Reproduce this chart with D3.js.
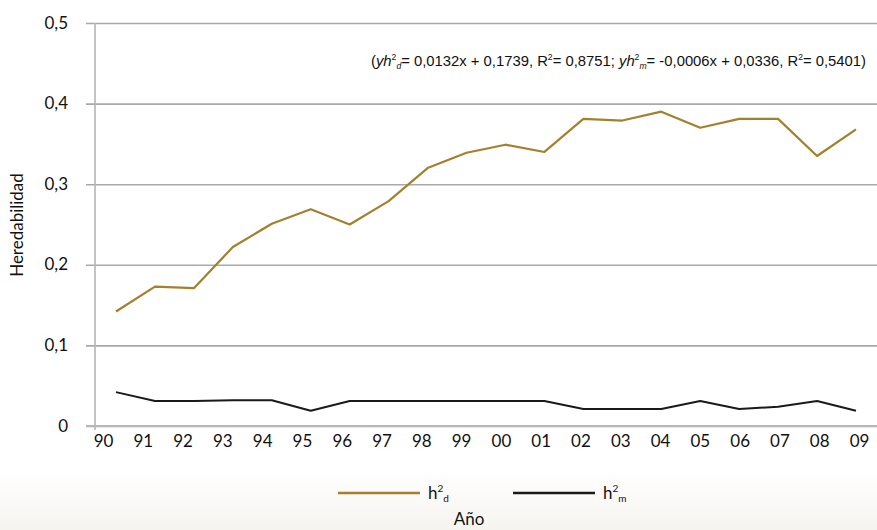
<!DOCTYPE html>
<html><head><meta charset="utf-8">
<script src="https://cdn.jsdelivr.net/npm/d3@7"></script>
<style>
html,body{margin:0;padding:0;background:#fff;}
svg{display:block;}
</style></head>
<body>
<svg id="c" width="877" height="530"></svg>
<script>
const years = ["90","91","92","93","94","95","96","97","98","99","00","01","02","03","04","05","06","07","08","09"];
const h2d = [0.142,0.173,0.171,0.222,0.251,0.269,0.250,0.279,0.320,0.339,0.349,0.340,0.381,0.379,0.390,0.370,0.381,0.381,0.335,0.368];
const h2m = [0.042,0.031,0.031,0.032,0.032,0.019,0.031,0.031,0.031,0.031,0.031,0.031,0.021,0.021,0.021,0.031,0.021,0.024,0.031,0.019];
const yTicks = [0,0.1,0.2,0.3,0.4,0.5];
const yTickLabels = ["0","0,1","0,2","0,3","0,4","0,5"];

const FONT = "Lato, 'Open Sans', sans-serif";
const svg = d3.select("#c");
const defs = svg.append("defs");
const g = defs.append("linearGradient").attr("id","bg").attr("x1",0).attr("y1",0).attr("x2",0).attr("y2",1);
g.append("stop").attr("offset","0").attr("stop-color","#ffffff");
g.append("stop").attr("offset","1").attr("stop-color","#f6f4ef");
svg.append("rect").attr("x",0).attr("y",0).attr("width",877).attr("height",530).attr("fill","#fff");
svg.append("rect").attr("x",0).attr("y",470).attr("width",877).attr("height",60).attr("fill","url(#bg)");

const y = d3.scaleLinear().domain([0,0.5]).range([426,23]);
const xPts = d3.scalePoint().domain(years).range([116,856]);
const xLab = d3.scalePoint().domain(years).range([103,859]);

// gridlines + y axis
const yAxis = d3.axisLeft(y).tickValues(yTicks).tickFormat((d,i)=>yTickLabels[i]).tickSize(-(877-86)).tickPadding(18);
const ya = svg.append("g").attr("transform","translate(86,0)").call(yAxis);
ya.select(".domain").remove();
ya.selectAll(".tick line").attr("stroke","#a9a9a9").attr("stroke-width",1.6);
ya.selectAll(".tick text").attr("font-family",FONT).attr("font-size",17).attr("fill","#111").attr("x",-18).attr("dy","0.3em");
// vertical axis line
svg.append("line").attr("x1",95).attr("x2",95).attr("y1",y(0.5)).attr("y2",430).attr("stroke","#b4b4b4").attr("stroke-width",1.6);
// bottom axis thicker
svg.append("line").attr("x1",86).attr("x2",877).attr("y1",y(0)).attr("y2",y(0)).attr("stroke","#b8b8b8").attr("stroke-width",2.2);

// x axis labels
const xAxis = d3.axisBottom(xLab).tickSize(0).tickPadding(9);
const xa = svg.append("g").attr("transform","translate(0,"+y(0)+")").call(xAxis);
xa.select(".domain").remove();
xa.selectAll(".tick text").attr("font-family",FONT).attr("font-size",17).attr("fill","#111");

const line = d3.line().x((d,i)=>xPts(years[i])).y(d=>y(d));
svg.append("path").datum(h2d).attr("d",line).attr("fill","none").attr("stroke","#a4802c").attr("stroke-width",2.2).attr("stroke-linejoin","round");
svg.append("path").datum(h2m).attr("d",line).attr("fill","none").attr("stroke","#1a1a1a").attr("stroke-width",2).attr("stroke-linejoin","round");

// y title
svg.append("text").attr("transform","translate(23,225) rotate(-90)").attr("text-anchor","middle")
  .attr("font-family",FONT).attr("font-size",17).attr("fill","#111").text("Heredabilidad");

// annotation
const ann = svg.append("text").attr("x",371).attr("y",66).attr("text-anchor","start")
  .attr("textLength",495).attr("lengthAdjust","spacingAndGlyphs")
  .attr("font-family","'Liberation Sans', Arial, sans-serif").attr("font-size",15.5).attr("fill","#111");
ann.append("tspan").text("(");
ann.append("tspan").attr("font-style","italic").text("yh");
ann.append("tspan").attr("font-size",9).attr("dy",-6).text("2");
ann.append("tspan").attr("font-size",9).attr("dy",9).attr("font-style","italic").text("d");
ann.append("tspan").attr("dy",-3).text("= 0,0132x + 0,1739, R");
ann.append("tspan").attr("font-size",9).attr("dy",-6).text("2");
ann.append("tspan").attr("dy",6).text("= 0,8751; ");
ann.append("tspan").attr("font-style","italic").text("yh");
ann.append("tspan").attr("font-size",9).attr("dy",-6).text("2");
ann.append("tspan").attr("font-size",9).attr("dy",9).attr("font-style","italic").text("m");
ann.append("tspan").attr("dy",-3).text("= -0,0006x + 0,0336, R");
ann.append("tspan").attr("font-size",9).attr("dy",-6).text("2");
ann.append("tspan").attr("dy",6).text("= 0,5401)");

// legend
const legend = [{name:"h", sub:"d", color:"#a4802c", x:338},{name:"h", sub:"m", color:"#1a1a1a", x:513}];
legend.forEach(l=>{
  svg.append("line").attr("x1",l.x).attr("x2",l.x+82).attr("y1",493).attr("y2",493).attr("stroke",l.color).attr("stroke-width",2.5);
  const t = svg.append("text").attr("x",l.x+90).attr("y",499).attr("font-family",FONT).attr("font-size",17).attr("fill","#111");
  t.append("tspan").text(l.name);
  t.append("tspan").attr("font-size",10).attr("dy",-7).text("2");
  t.append("tspan").attr("font-size",10).attr("dy",10).text(l.sub);
});
svg.append("text").attr("x",469).attr("y",525).attr("text-anchor","middle").attr("font-family",FONT).attr("font-size",17).attr("fill","#111").text("Año");
</script>
</body></html>
